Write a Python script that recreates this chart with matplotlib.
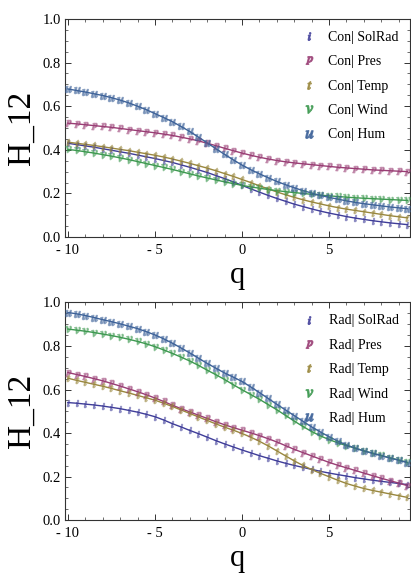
import numpy as np
import matplotlib
matplotlib.use('Agg')
import matplotlib.pyplot as plt
from matplotlib.colors import hsv_to_rgb
from matplotlib.lines import Line2D
from matplotlib.ticker import MultipleLocator

plt.rcParams['font.family'] = ['Liberation Serif', 'DejaVu Serif']
plt.rcParams['mathtext.fontset'] = 'stix'

# q grid (step 0.5)
q = np.arange(-10, 10, 0.5)

# Con | ...
con_solrad = [.430, .424, .418, .412, .405, .398, .391, .384, .376, .368, .360, .351, .342, .331, .320, .308, .296, .282, .268, .253,
              .237, .221, .206, .191, .177, .164, .151, .140, .129, .119, .110, .102, .094, .087, .081, .075, .070, .065, .061, .057]
con_pres = [.522, .519, .515, .511, .507, .503, .498, .493, .488, .483, .478, .472, .466, .458, .450, .441, .430, .419, .407, .396,
            .385, .375, .366, .358, .351, .345, .340, .336, .332, .328, .324, .320, .317, .314, .311, .308, .306, .304, .302, .300]
con_temp = [.435, .430, .425, .420, .414, .408, .402, .396, .389, .382, .375, .367, .358, .348, .338, .327, .316, .304, .291, .278,
            .264, .250, .235, .221, .207, .194, .182, .171, .161, .152, .143, .135, .128, .122, .116, .110, .104, .098, .093, .088]
con_wind = [.402, .397, .391, .385, .378, .371, .363, .355, .346, .337, .328, .319, .310, .300, .290, .280, .271, .262, .253, .245,
            .237, .230, .224, .218, .213, .208, .204, .200, .196, .192, .189, .186, .183, .180, .178, .176, .174, .172, .170, .168]
con_hum = [.679, .672, .665, .657, .649, .639, .628, .615, .600, .584, .566, .548, .529, .507, .484, .458, .432, .405, .379, .354,
           .330, .309, .290, .272, .255, .240, .226, .213, .202, .191, .182, .174, .166, .159, .153, .148, .143, .138, .134, .130]

# Rad | ...
rad_solrad = [.540, .537, .533, .529, .524, .518, .512, .504, .496, .486, .475, .460, .443, .428, .412, .397, .381, .365, .350, .336,
              .322, .309, .296, .284, .272, .261, .251, .242, .233, .224, .216, .209, .202, .195, .189, .183, .178, .173, .168, .163]
rad_pres = [.678, .669, .660, .650, .640, .628, .616, .603, .590, .576, .561, .545, .528, .512, .497, .482, .467, .452, .438, .425,
            .413, .401, .388, .374, .359, .342, .325, .310, .295, .280, .265, .252, .240, .228, .216, .204, .192, .181, .170, .158]
rad_temp = [.652, .642, .633, .624, .615, .605, .594, .584, .573, .562, .551, .537, .522, .506, .490, .474, .458, .442, .427, .413,
            .398, .381, .362, .341, .318, .295, .272, .251, .232, .215, .199, .183, .168, .156, .145, .136, .128, .120, .112, .104]
rad_wind = [.878, .873, .868, .862, .855, .848, .840, .831, .821, .810, .797, .782, .766, .749, .731, .711, .689, .668, .646, .622,
            .599, .577, .555, .531, .507, .481, .455, .430, .407, .387, .370, .355, .342, .330, .318, .307, .297, .286, .276, .265]
rad_hum = [.954, .948, .940, .931, .921, .912, .902, .891, .880, .866, .851, .833, .813, .791, .768, .744, .720, .698, .676, .657,
           .637, .612, .586, .559, .532, .506, .480, .454, .428, .405, .383, .363, .345, .331, .318, .307, .296, .285, .275, .264]

letters = ['i', 'p', 't', 'v', 'u']
names = ['SolRad', 'Pres', 'Temp', 'Wind', 'Hum']
# Mathematica default hues
colors = [hsv_to_rgb((h, 0.6, 0.6)) for h in (0.67, 0.9, 0.1333, 0.3667, 0.6)]

panels = [('Con', [con_solrad, con_pres, con_temp, con_wind, con_hum]),
          ('Rad', [rad_solrad, rad_pres, rad_temp, rad_wind, rad_hum])]

fig = plt.figure(figsize=(4.11, 5.74), dpi=100)
boxes = [[0.158, 0.587, 0.84, 0.380], [0.158, 0.094, 0.84, 0.379]]

for (cond, series), box in zip(panels, boxes):
    ax = fig.add_axes(box)
    for ys, c, l in zip(series, colors, letters):
        ax.plot(q, ys, color=c, lw=1.0, zorder=2)
        ax.plot(q, ys, ls='none', marker='$' + l + '$', ms=4.5, color=c, alpha=0.5, zorder=3)
    ax.set_xlim(-10.17, 9.66)
    ax.set_ylim(0, 1.0)
    ax.xaxis.set_major_locator(MultipleLocator(5))
    ax.xaxis.set_minor_locator(MultipleLocator(1))
    ax.yaxis.set_major_locator(MultipleLocator(0.2))
    ax.yaxis.set_minor_locator(MultipleLocator(0.05))
    ax.set_xticks([-10, -5, 0, 5])
    ax.set_xticklabels(['- 10', '- 5', '0', '5'])
    ax.set_yticks([0, .2, .4, .6, .8, 1.0])
    ax.set_yticklabels(['0.0', '0.2', '0.4', '0.6', '0.8', '1.0'])
    ax.tick_params(which='both', direction='in', top=True, right=True, labelsize=10.5, color='#333333')
    ax.tick_params(axis='x', pad=5)
    ax.tick_params(axis='y', pad=3)
    ax.tick_params(which='major', length=4, width=0.7)
    ax.tick_params(which='minor', length=2, width=0.5)
    for s in ax.spines.values():
        s.set_linewidth(0.8)
        s.set_color('#333333')
    ax.set_ylabel('H_12', fontsize=24, labelpad=4)
    ax.set_xlabel('q', fontsize=22, labelpad=3)

    handles = [Line2D([], [], ls='none', marker='$' + l + '$', ms=5.5, color=c, alpha=0.8)
               for l, c in zip(letters, colors)]
    labels = [cond + '| ' + n for n in names]
    ax.legend(handles, labels, loc='upper right', frameon=False, fontsize=10,
              handlelength=1.0, handletextpad=0.9, labelspacing=0.82,
              borderaxespad=0.3, bbox_to_anchor=(0.995, 0.99))

fig.savefig('out.png', dpi=100)
